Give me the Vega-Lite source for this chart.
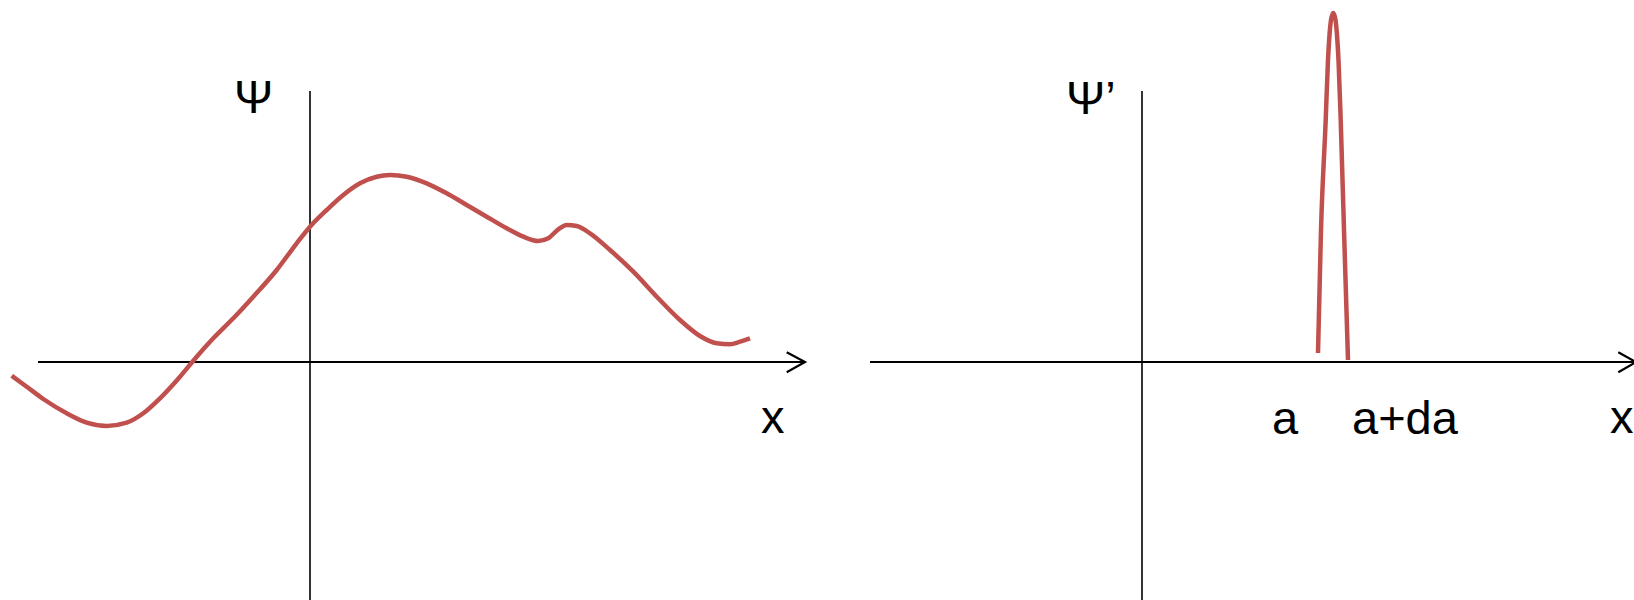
{
  "$schema": "https://vega.github.io/schema/vega-lite/v6.json",
  "width": 1634,
  "height": 600,
  "autosize": "none",
  "padding": 0,
  "background": "white",
  "config": {"view": {"stroke": null}},
  "datasets": {
    "curve": [
      {"i": 0, "x": 11.7, "y": 375.7},
      {"i": 1, "x": 26.7, "y": 386.7},
      {"i": 2, "x": 43.3, "y": 399},
      {"i": 3, "x": 66.7, "y": 413.3},
      {"i": 4, "x": 86.7, "y": 422.7},
      {"i": 5, "x": 106.7, "y": 426},
      {"i": 6, "x": 126.7, "y": 422.7},
      {"i": 7, "x": 143.3, "y": 413.3},
      {"i": 8, "x": 160, "y": 398.3},
      {"i": 9, "x": 180, "y": 376.7},
      {"i": 10, "x": 196.7, "y": 356.7},
      {"i": 11, "x": 213.3, "y": 338.3},
      {"i": 12, "x": 233.3, "y": 318.3},
      {"i": 13, "x": 253.3, "y": 296.7},
      {"i": 14, "x": 276.7, "y": 270},
      {"i": 15, "x": 296.7, "y": 243.3},
      {"i": 16, "x": 310, "y": 226.7},
      {"i": 17, "x": 326.7, "y": 210},
      {"i": 18, "x": 343.3, "y": 195},
      {"i": 19, "x": 360, "y": 183.3},
      {"i": 20, "x": 376.7, "y": 176.7},
      {"i": 21, "x": 390, "y": 175},
      {"i": 22, "x": 406.7, "y": 176.7},
      {"i": 23, "x": 426.7, "y": 183.3},
      {"i": 24, "x": 446.7, "y": 193.3},
      {"i": 25, "x": 466.7, "y": 205},
      {"i": 26, "x": 486.7, "y": 216.7},
      {"i": 27, "x": 506.7, "y": 228.3},
      {"i": 28, "x": 523.3, "y": 236.7},
      {"i": 29, "x": 538.3, "y": 241},
      {"i": 30, "x": 548.3, "y": 238.3},
      {"i": 31, "x": 558.3, "y": 229.3},
      {"i": 32, "x": 566.7, "y": 225},
      {"i": 33, "x": 576.7, "y": 226},
      {"i": 34, "x": 590, "y": 233.3},
      {"i": 35, "x": 610, "y": 250},
      {"i": 36, "x": 633.3, "y": 271.7},
      {"i": 37, "x": 656.7, "y": 296.7},
      {"i": 38, "x": 680, "y": 320},
      {"i": 39, "x": 700, "y": 336},
      {"i": 40, "x": 716.7, "y": 343.3},
      {"i": 41, "x": 730, "y": 344.3},
      {"i": 42, "x": 740, "y": 341.7},
      {"i": 43, "x": 750, "y": 338.3}
    ],
    "peak": [
      {"i": 0, "x": 1318, "y": 353},
      {"i": 1, "x": 1321, "y": 230},
      {"i": 2, "x": 1325.7, "y": 120},
      {"i": 3, "x": 1328, "y": 60},
      {"i": 4, "x": 1329.5, "y": 35},
      {"i": 5, "x": 1331, "y": 20},
      {"i": 6, "x": 1333.3, "y": 13},
      {"i": 7, "x": 1335.5, "y": 20},
      {"i": 8, "x": 1337, "y": 35},
      {"i": 9, "x": 1338.5, "y": 60},
      {"i": 10, "x": 1340.7, "y": 120},
      {"i": 11, "x": 1344, "y": 230},
      {"i": 12, "x": 1348, "y": 360}
    ],
    "hAxes": [
      {"s": "leftAxis", "i": 0, "x": 38, "y": 362},
      {"s": "leftAxis", "i": 1, "x": 804, "y": 362},
      {"s": "leftArrow", "i": 0, "x": 786.7, "y": 352.3},
      {"s": "leftArrow", "i": 1, "x": 805, "y": 362},
      {"s": "leftArrow", "i": 2, "x": 786.7, "y": 372.3},
      {"s": "rightAxis", "i": 0, "x": 870, "y": 362},
      {"s": "rightAxis", "i": 1, "x": 1634, "y": 362},
      {"s": "rightArrow", "i": 0, "x": 1618.3, "y": 352.3},
      {"s": "rightArrow", "i": 1, "x": 1636, "y": 362},
      {"s": "rightArrow", "i": 2, "x": 1618.3, "y": 372.3}
    ],
    "vAxes": [
      {"s": "left", "i": 0, "x": 310, "y": 91},
      {"s": "left", "i": 1, "x": 310, "y": 600},
      {"s": "right", "i": 0, "x": 1142, "y": 91},
      {"s": "right", "i": 1, "x": 1142, "y": 600}
    ],
    "labels": [
      {"t": "Ψ", "x": 234, "y": 113},
      {"t": "Ψ’", "x": 1066, "y": 114},
      {"t": "x", "x": 761, "y": 433},
      {"t": "a", "x": 1272, "y": 434},
      {"t": "a+da", "x": 1352, "y": 434},
      {"t": "x", "x": 1610, "y": 433}
    ]
  },
  "encoding": {
    "x": {"field": "x", "type": "quantitative", "scale": {"domain": [0, 1634], "nice": false, "zero": false}, "axis": null},
    "y": {"field": "y", "type": "quantitative", "scale": {"domain": [0, 600], "nice": false, "zero": false, "reverse": true}, "axis": null}
  },
  "layer": [
    {
      "data": {"name": "vAxes"},
      "mark": {"type": "line", "color": "#000000", "strokeWidth": 1.6},
      "encoding": {"detail": {"field": "s"}, "order": {"field": "i"}}
    },
    {
      "data": {"name": "hAxes"},
      "mark": {"type": "line", "color": "#000000", "strokeWidth": 2.2},
      "encoding": {"detail": {"field": "s"}, "order": {"field": "i"}}
    },
    {
      "data": {"name": "curve"},
      "mark": {"type": "line", "color": "#C0504D", "strokeWidth": 4.5, "interpolate": "monotone"},
      "encoding": {"order": {"field": "i"}}
    },
    {
      "data": {"name": "peak"},
      "mark": {"type": "line", "color": "#C0504D", "strokeWidth": 4.5, "interpolate": "monotone"},
      "encoding": {"order": {"field": "i"}}
    },
    {
      "data": {"name": "labels"},
      "mark": {"type": "text", "font": "Liberation Sans", "fontSize": 47, "align": "left", "baseline": "alphabetic", "color": "#000000"},
      "encoding": {"text": {"field": "t"}}
    }
  ]
}
